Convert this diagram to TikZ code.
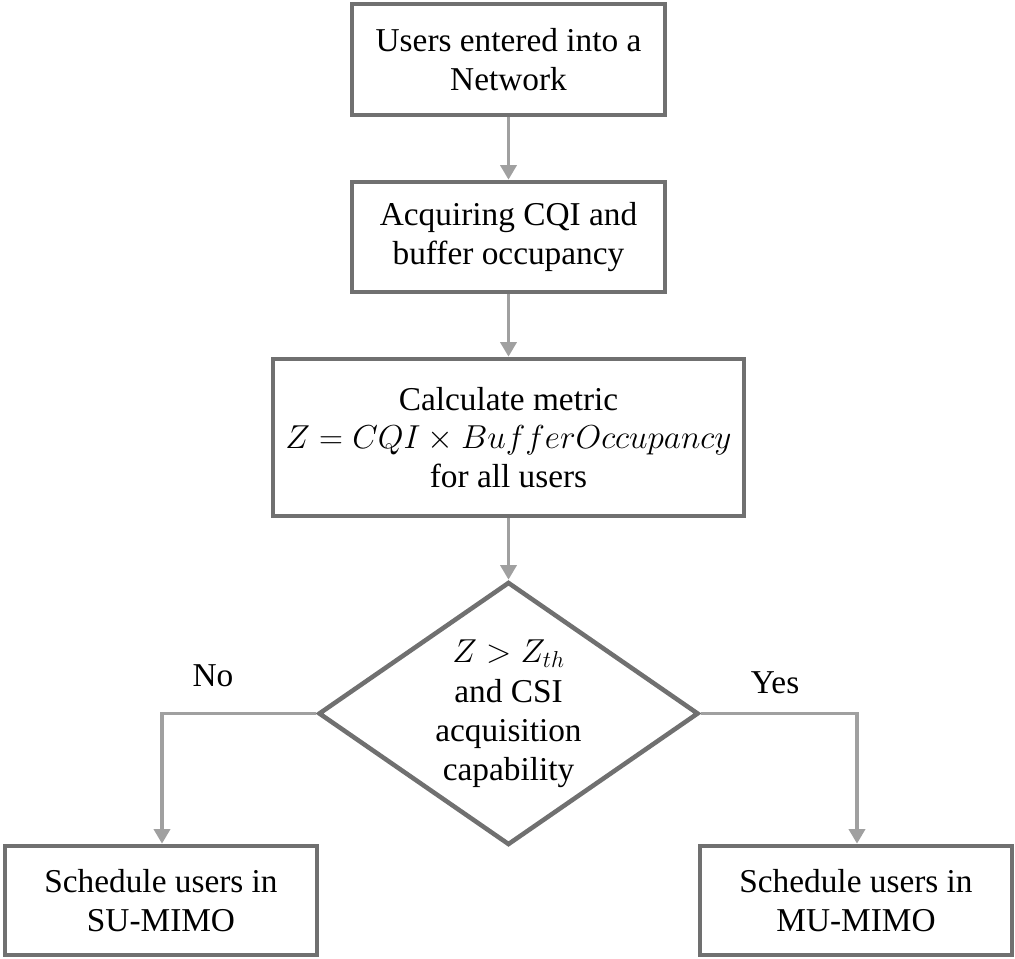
\documentclass[tikz,border=0pt]{standalone}
\usepackage{fontspec}
\setmainfont{Liberation Serif}
\usepackage{tikz}
\usetikzlibrary{shapes.geometric,arrows.meta}

\definecolor{boxgray}{RGB}{112,112,112}
\definecolor{linkgray}{RGB}{160,160,160}

\begin{document}
\begin{tikzpicture}[x=0.75pt,y=0.75pt,yscale=-1,xscale=1,
    stepbox/.style={draw=boxgray,line width=3.4pt,fill=white,align=center,inner sep=0pt},
    link/.style={draw=linkgray,line width=2.8pt,-{Triangle[length=11pt,width=12pt]}},
    font=\fontsize{25}{29}\selectfont]
    %set diagram left start at 0, and has height of 959
    \useasboundingbox (0,0) rectangle (1015,959);

    %Shape: Rectangle [users entered]
    \node (enter) [stepbox,minimum width=313*0.75pt,minimum height=111*0.75pt] at (508.5,59.5) {Users entered into a\\Network};
    %Shape: Rectangle [acquire]
    \node (acquire) [stepbox,minimum width=313*0.75pt,minimum height=110*0.75pt] at (508.5,237) {Acquiring CQI and\\buffer occupancy};
    %Shape: Rectangle [metric]
    \node (metric) [stepbox,minimum width=471*0.75pt,minimum height=157*0.75pt] at (508.5,437.5) {Calculate metric\\$Z = CQI \times BufferOccupancy$\\for all users};
    %Shape: Diamond [decision]
    \node (check) [draw=boxgray,line width=3.4pt,diamond,inner sep=0pt,minimum width=380*0.75pt,minimum height=263*0.75pt] at (508.5,713.5) {};
    %Shape: Rectangle [su-mimo]
    \node (sumimo) [stepbox,minimum width=312*0.75pt,minimum height=109*0.75pt] at (161,900.5) {Schedule users in\\SU-MIMO};
    %Shape: Rectangle [mu-mimo]
    \node (mumimo) [stepbox,minimum width=312*0.75pt,minimum height=109*0.75pt] at (856,900.5) {Schedule users in\\MU-MIMO};

    %Straight Lines
    \draw [link] (enter) -- (acquire);
    \draw [link] (acquire) -- (metric);
    \draw [link] (metric) -- (check);
    \draw [link] (check.west) -| (sumimo.north -| 162,0);
    \draw [link] (check.east) -| (mumimo.north -| 857,0);

    % Text Node
    \node (checktext) [align=center,font=\fontsize{25}{29.5}\selectfont] at (508.5,714) {$Z > Z_{th}$\\and CSI\\acquisition\\capability};
    % Text Node
    \node (no) at (213,676) {No};
    % Text Node
    \node (yes) at (775,683) {Yes};

\end{tikzpicture}
\end{document}
